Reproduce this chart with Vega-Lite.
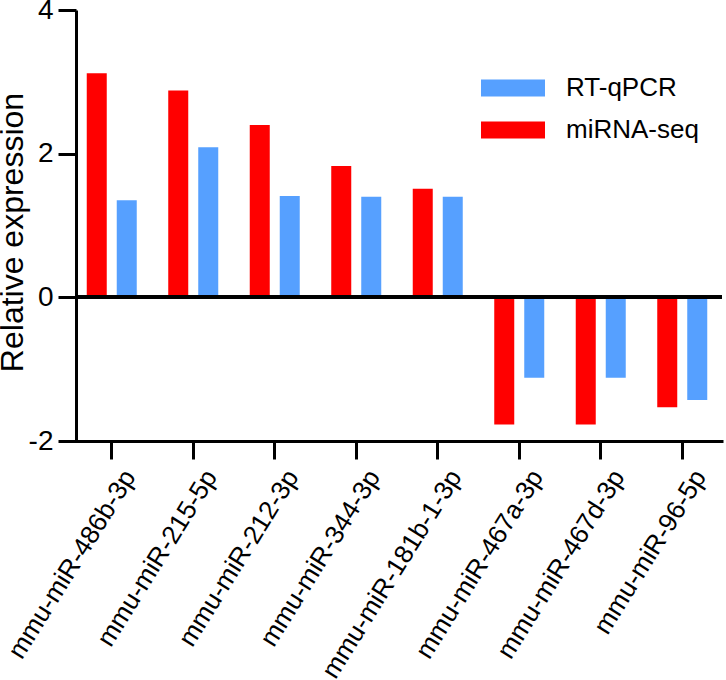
{
  "$schema": "https://vega.github.io/schema/vega-lite/v6.json",
  "description": "RT-qPCR vs miRNA-seq relative expression",
  "width": 646,
  "height": 431,
  "autosize": "none",
  "padding": {"left": 76, "top": 10, "right": 4, "bottom": 239},
  "config": {
    "view": {"stroke": null},
    "font": "Liberation Sans",
    "axis": {
      "grid": false,
      "domainColor": "black",
      "tickColor": "black",
      "labelColor": "black",
      "titleColor": "black"
    }
  },
  "data": {
    "values": [
      {"mirna": "mmu-miR-486b-3p", "method": "miRNA-seq", "value": 3.12},
      {"mirna": "mmu-miR-486b-3p", "method": "RT-qPCR", "value": 1.35},
      {"mirna": "mmu-miR-215-5p", "method": "miRNA-seq", "value": 2.88},
      {"mirna": "mmu-miR-215-5p", "method": "RT-qPCR", "value": 2.09},
      {"mirna": "mmu-miR-212-3p", "method": "miRNA-seq", "value": 2.4},
      {"mirna": "mmu-miR-212-3p", "method": "RT-qPCR", "value": 1.41},
      {"mirna": "mmu-miR-344-3p", "method": "miRNA-seq", "value": 1.83},
      {"mirna": "mmu-miR-344-3p", "method": "RT-qPCR", "value": 1.4},
      {"mirna": "mmu-miR-181b-1-3p", "method": "miRNA-seq", "value": 1.51},
      {"mirna": "mmu-miR-181b-1-3p", "method": "RT-qPCR", "value": 1.4},
      {"mirna": "mmu-miR-467a-3p", "method": "miRNA-seq", "value": -1.77},
      {"mirna": "mmu-miR-467a-3p", "method": "RT-qPCR", "value": -1.12},
      {"mirna": "mmu-miR-467d-3p", "method": "miRNA-seq", "value": -1.77},
      {"mirna": "mmu-miR-467d-3p", "method": "RT-qPCR", "value": -1.12},
      {"mirna": "mmu-miR-96-5p", "method": "miRNA-seq", "value": -1.53},
      {"mirna": "mmu-miR-96-5p", "method": "RT-qPCR", "value": -1.43}
    ]
  },
  "layer": [
    {
      "mark": {"type": "bar"},
      "encoding": {
        "x": {
          "field": "mirna",
          "type": "nominal",
          "sort": null,
          "scale": {"range": [-5, 647], "paddingInner": 0, "paddingOuter": 0},
          "axis": {
            "title": null,
            "labelAngle": -58,
            "labelAlign": "right",
            "labelBaseline": "middle",
            "labelFontSize": 26,
            "labelPadding": 13,
            "labelOffset": 18,
            "labelLimit": 400,
            "labelOverlap": false,
            "labelBound": false,
            "tickSize": 18,
            "tickWidth": 3,
            "domainWidth": 3
          }
        },
        "xOffset": {
          "field": "method",
          "type": "nominal",
          "sort": ["miRNA-seq", "RT-qPCR"],
          "scale": {"paddingInner": 0.3333, "paddingOuter": 0.525}
        },
        "y": {
          "field": "value",
          "type": "quantitative",
          "scale": {"domain": [-2, 4], "nice": false},
          "axis": {
            "title": "Relative expression",
            "values": [-2, 0, 2, 4],
            "labelExpr": "datum.value < 0 ? '-' + abs(datum.value) : '' + datum.value",
            "labelFontSize": 28,
            "labelPadding": 5,
            "titleFontSize": 32,
            "titleFontWeight": "normal",
            "titleX": -47,
            "titleY": 222,
            "titleAngle": -90,
            "titleAlign": "center",
            "titleBaseline": "bottom",
            "tickSize": 18,
            "tickWidth": 3,
            "domainWidth": 3
          }
        },
        "color": {
          "field": "method",
          "type": "nominal",
          "scale": {"domain": ["RT-qPCR", "miRNA-seq"], "range": ["#56A0FF", "#FF0000"]},
          "legend": {
            "title": null,
            "orient": "none",
            "legendX": 421,
            "legendY": 62,
            "padding": 0,
            "symbolType": "M-2,-0.53L2,-0.53L2,0.53L-2,0.53Z",
            "symbolSize": 1024,
            "symbolStrokeWidth": 0,
            "labelFontSize": 26,
            "labelColor": "black",
            "labelOffset": 37,
            "rowPadding": 13
          }
        }
      }
    },
    {
      "mark": {"type": "rule", "color": "black", "strokeWidth": 3},
      "encoding": {"y": {"datum": 0}}
    }
  ]
}
